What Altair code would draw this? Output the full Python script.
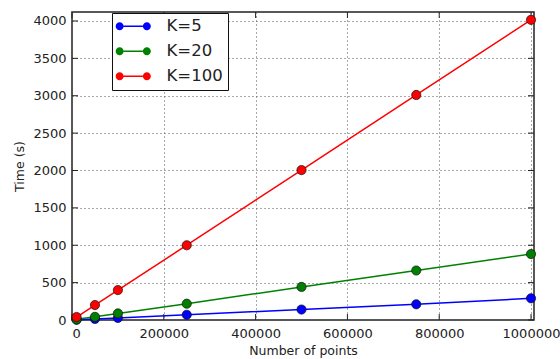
import altair as alt
import pandas as pd

# ---- data ----
n_points = [10000, 50000, 100000, 250000, 500000, 750000, 1000000]
k5 = [3, 14, 28, 70, 140, 210, 290]
k20 = [9, 42, 88, 218, 442, 662, 882]
k100 = [40, 200, 400, 1000, 2005, 3010, 4015]
series = ["K=5", "K=20", "K=100"]
colors = ["#0000ff", "#008000", "#ff0000"]
x_ticks = [0, 200000, 400000, 600000, 800000, 1000000]
y_ticks = [0, 500, 1000, 1500, 2000, 2500, 3000, 3500, 4000]

rows = []
for name, vals in zip(series, [k5, k20, k100]):
    for x, y in zip(n_points, vals):
        rows.append({"points": x, "time": y, "series": name})
df = pd.DataFrame(rows)
xt = pd.DataFrame({"points": x_ticks})
yt = pd.DataFrame({"time": y_ticks})

W, H = 462, 308
FONT = "DejaVu Sans"

xscale = alt.Scale(domain=[0, 1006500], nice=False, zero=False)
yscale = alt.Scale(domain=[0, 4120], nice=False)
cscale = alt.Scale(domain=series, range=colors)

# legend symbol: line segment with a circle at each end
legend_path = (
    "M-1.2,0a0.5,0.5 0 1,0 1,0a0.5,0.5 0 1,0 -1,0Z"
    "M2.2,0a0.5,0.5 0 1,0 1,0a0.5,0.5 0 1,0 -1,0Z"
    "M-0.2,-0.1L2.2,-0.1L2.2,0.1L-0.2,0.1Z"
)
legend = alt.Legend(title=None, orient="none", legendX=40, legendY=1,
                    symbolType=legend_path, symbolSize=256,
                    symbolStrokeWidth=0, symbolOpacity=1, labelFontSize=16.5,
                    labelOffset=33, rowPadding=8, padding=5,
                    strokeColor="#111", fillColor="white",
                    labelColor="#222", labelFont=FONT)

x_axis = alt.Axis(values=x_ticks, format="d", title="Number of points",
                  labelPadding=7, titlePadding=4, labelOverlap=False)
y_axis = alt.Axis(values=y_ticks, format="d", title="Time (s)",
                  labelPadding=6, titlePadding=6, labelOverlap=False)

lines = alt.Chart(df).mark_line(strokeWidth=1.5).encode(
    x=alt.X("points:Q", scale=xscale, axis=x_axis),
    y=alt.Y("time:Q", scale=yscale, axis=y_axis),
    color=alt.Color("series:N", scale=cscale, legend=legend),
)

points = alt.Chart(df).mark_point(filled=True, size=85, opacity=1,
                                  stroke="#111", strokeWidth=0.7).encode(
    x=alt.X("points:Q", scale=xscale, axis=x_axis),
    y=alt.Y("time:Q", scale=yscale, axis=y_axis),
    color=alt.Color("series:N", scale=cscale, legend=legend),
)

tick_col = "#222"
xt_bot = alt.Chart(xt).mark_rule(color=tick_col).encode(
    x=alt.X("points:Q", scale=xscale, axis=x_axis), y=alt.value(H - 6), y2=alt.value(H))
xt_top = alt.Chart(xt).mark_rule(color=tick_col).encode(
    x=alt.X("points:Q", scale=xscale, axis=x_axis), y=alt.value(0), y2=alt.value(6))
yt_left = alt.Chart(yt).mark_rule(color=tick_col).encode(
    y=alt.Y("time:Q", scale=yscale, axis=y_axis), x=alt.value(0), x2=alt.value(6))
yt_right = alt.Chart(yt).mark_rule(color=tick_col).encode(
    y=alt.Y("time:Q", scale=yscale, axis=y_axis), x=alt.value(W - 6), x2=alt.value(W))

chart = alt.layer(xt_bot, xt_top, yt_left, yt_right, lines, points).properties(
    width=W, height=H,
    padding={"left": 72, "top": 12, "right": 26, "bottom": 39},
    autosize=alt.AutoSizeParams(type="none"),
).configure_view(
    stroke="#222", strokeWidth=1.5
).configure_axis(
    labelFont=FONT, titleFont=FONT, labelFontSize=13, titleFontSize=12.5,
    titleFontWeight="normal", labelColor="#222", titleColor="#222",
    domain=False, ticks=False,
    grid=True, gridColor="#555", gridDash=[1, 3], gridWidth=1, gridOpacity=1,
)

chart.save("out.html", embed_options={"renderer": "svg", "actions": False})
